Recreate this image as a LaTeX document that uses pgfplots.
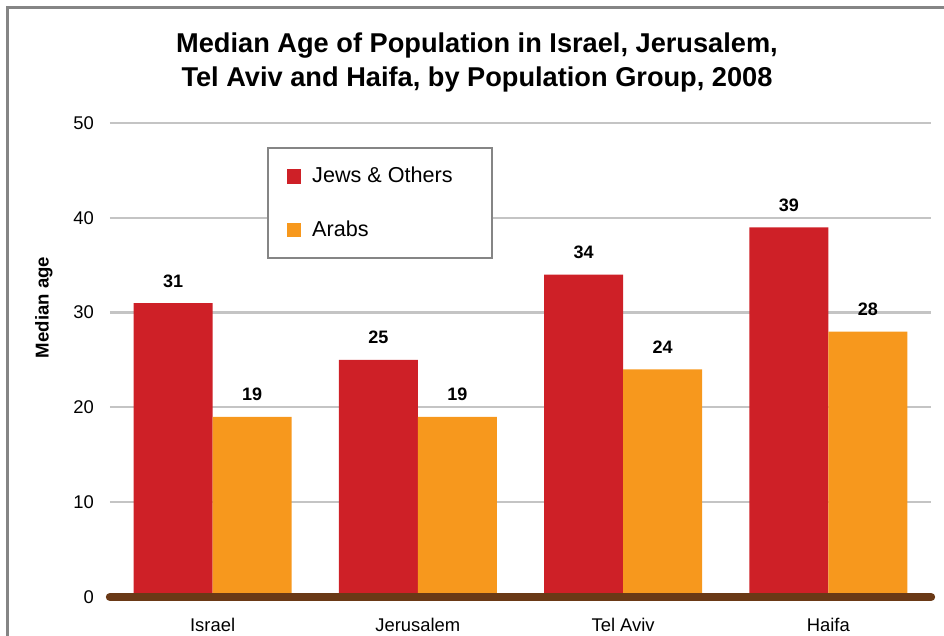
\documentclass[border=0pt]{standalone}
\usepackage{pgfplots}
\pgfplotsset{compat=1.18}
\usepackage{fontspec}
\setmainfont{Liberation Sans}

\definecolor{jred}{RGB}{206,32,39}
\definecolor{arabor}{RGB}{247,152,29}
\definecolor{axbrown}{RGB}{106,57,22}
\definecolor{gridgray}{RGB}{196,196,196}
\definecolor{framegray}{RGB}{133,133,133}

\begin{document}
\begin{tikzpicture}
\useasboundingbox (0,0) rectangle (472pt,318pt);
% outer frame, only left and top edges are inside the picture
\draw[framegray, line width=1.3pt] (3.75pt,-20pt) rectangle (520pt,314.25pt);

\begin{axis}[
    at={(55pt,19.5pt)}, anchor=south west,
    scale only axis,
    width=410.5pt, height=237pt,
    xmin=-0.5, xmax=3.5,
    ymin=0, ymax=50,
    clip=false,
    xtick={0,1,2,3},
    xticklabels={Israel, Jerusalem, Tel Aviv, Haifa},
    ytick={0,10,20,30,40,50},
    ymajorgrids,
    grid style={gridgray, line width=1.1pt},
    axis line style={draw=none},
    tick style={draw=none},
    major tick length=0pt,
    /pgf/number format/assume math mode=true,
    tick label style={font=\fontsize{9.2}{11}\selectfont},
    xticklabel style={yshift=-7pt},
    yticklabel style={xshift=-4.5pt},
    title={Median Age of Population in Israel, Jerusalem,\\Tel Aviv and Haifa, by Population Group, 2008},
    title style={font=\bfseries\fontsize{13.6}{17}\selectfont, align=center,
        inner sep=0pt, at={(axis description cs:0.447,1.165)}, anchor=north},
    ylabel={Median age},
    ylabel style={font=\bfseries\fontsize{9.3}{11}\selectfont,
        at={(axis description cs:-0.0749,0.6108)}, anchor=base, inner sep=0pt},
    legend style={at={(axis description cs:0.191,0.949)}, anchor=north west,
        draw=framegray, line width=1pt,
        inner xsep=9.5pt, inner ysep=9.5pt,
        row sep=17.5pt, column sep=5.5pt,
        nodes={inner sep=0pt},
        font=\fontsize{10.8}{13}\selectfont},
    legend cell align=left,
    every node near coord/.style={font=\bfseries\fontsize{9}{11}\selectfont,
        anchor=base, inner sep=0pt, yshift=8pt, black},
]
% bars are placed at their own x (category +/- half a bar), no bar shift
\addplot[ybar, bar width=0.385, bar shift=0, fill=jred, draw=none,
    nodes near coords,
    legend image code/.code={\fill[jred] (0pt,-3.6pt) rectangle (7.2pt,3.6pt);}]
    coordinates {(-0.1925,31) (0.8075,25) (1.8075,34) (2.8075,39)};
\addlegendentry{Jews \& Others\kern10pt}
\addplot[ybar, bar width=0.385, bar shift=0, fill=arabor, draw=none,
    nodes near coords,
    legend image code/.code={\fill[arabor] (0pt,-3.6pt) rectangle (7.2pt,3.6pt);}]
    coordinates {(0.1925,19) (1.1925,19) (2.1925,24) (3.1925,28)};
\addlegendentry{Arabs}
\draw[axbrown, line width=4.2pt, line cap=round] (axis cs:-0.5,0) -- (axis cs:3.5,0);
\end{axis}
\end{tikzpicture}
\end{document}
